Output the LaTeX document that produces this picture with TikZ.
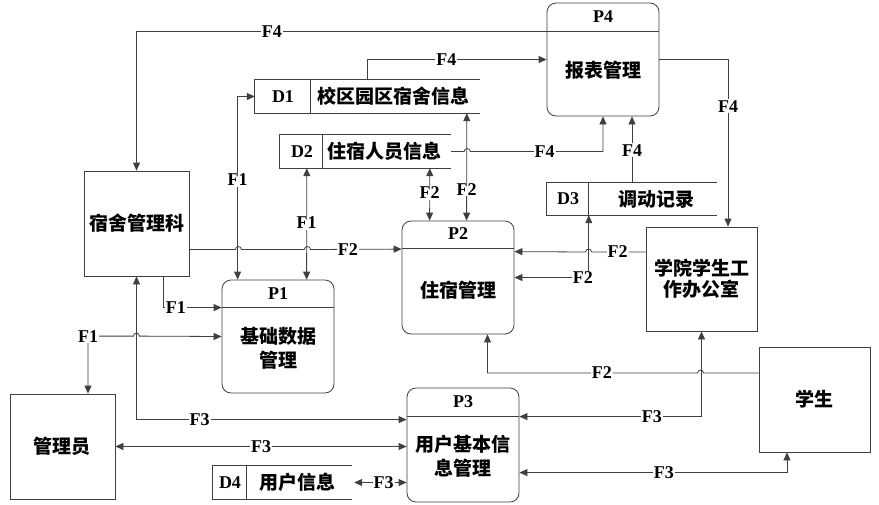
\documentclass[tikz,border=0pt]{standalone}
\usepackage{fontspec}
\setmainfont{Liberation Serif}
\newfontfamily\cjk{Noto Sans CJK SC}
\usetikzlibrary{arrows.meta,calc}
\tikzset{
  ent/.style={draw=black!75,line width=0.8pt,minimum width=105pt,minimum height=105pt,inner sep=0pt,align=center,font=\cjk\bfseries\fontsize{19}{21}\selectfont},
  proc/.style={draw=black!75,line width=0.8pt,rounded corners=9pt,minimum width=112pt,minimum height=113pt,inner sep=0pt},
  store/.style={minimum width=#1,minimum height=33pt,inner sep=0pt},
  tt/.style={align=center,inner sep=0pt,font=\cjk\bfseries\fontsize{19}{24}\selectfont},
  pid/.style={inner sep=0pt,font=\bfseries\fontsize{18}{20}\selectfont},
  lbl/.style={fill=white,inner sep=1pt,font=\bfseries\fontsize{18}{20}\selectfont},
  ln/.style={draw=black!75,line width=0.8pt},
  arr/.style={ln,-{Triangle[length=8pt,width=7pt]}},
  biarr/.style={ln,{Triangle[length=8pt,width=7pt]}-{Triangle[length=8pt,width=7pt]}},
}
\begin{document}
\begin{tikzpicture}[x=1pt,y=-1pt]
 \fill[white] (0,0) rectangle (879,504);
 \useasboundingbox (0,0) rectangle (879,504);
 % ---- external entities
 \node[ent] (kssk) at (136.5,223.5) {宿舍管理科};
 \node[ent] (gly) at (62.5,446.5) {管理员};
 \node[ent,minimum width=111pt,minimum height=104pt] (xy) at (701.5,279) {学院学生工\\作办公室};
 \node[ent,minimum width=111pt] (xs) at (814.5,399.5) {学生};
 % ---- processes
 \node[proc] (p4) at (603,59.5) {};
 \draw[ln] ([yshift=-28.5pt]p4.north west) -- ([yshift=-28.5pt]p4.north east);
 \node[pid] (p4id) at ([yshift=-14pt]p4.north) {P4};
 \node[tt] (p4txt) at (603,70) {报表管理};
 \node[proc] (p1) at (278,336.5) {};
 \draw[ln] ([yshift=-28pt]p1.north west) -- ([yshift=-28pt]p1.north east);
 \node[pid] (p1id) at ([yshift=-14pt]p1.north) {P1};
 \node[tt] (p1txt) at (278,348.5) {基础数据\\管理};
 \node[proc] (p2) at (458,277.5) {};
 \draw[ln] ([yshift=-28pt]p2.north west) -- ([yshift=-28pt]p2.north east);
 \node[pid] (p2id) at ([yshift=-13pt]p2.north) {P2};
 \node[tt] (p2txt) at (458,290) {住宿管理};
 \node[proc,minimum height=114pt] (p3) at (463,445) {};
 \draw[ln] ([yshift=-29pt]p3.north west) -- ([yshift=-29pt]p3.north east);
 \node[pid] (p3id) at ([yshift=-14pt]p3.north) {P3};
 \node[tt] (p3txt) at (463,456.5) {用户基本信\\息管理};
 % ---- data stores
 \node[store=225pt] (d1) at (367.5,96.5) {};
 \draw[ln] (d1.north east) -| (d1.south west) -- (d1.south east);
 \draw[ln] ([xshift=56pt]d1.north west) -- ([xshift=56pt]d1.south west);
 \node[pid] (d1id) at (283,96.5) {D1};
 \node[tt] (d1txt) at (393,96.5) {校区园区宿舍信息};
 \node[store=171pt] (d2) at (365.5,151.5) {};
 \draw[ln] (d2.north east) -| (d2.south west) -- (d2.south east);
 \draw[ln] ([xshift=43pt]d2.north west) -- ([xshift=43pt]d2.south west);
 \node[pid] (d2id) at (302,151.5) {D2};
 \node[tt] (d2txt) at (384,151.5) {住宿人员信息};
 \node[store=170pt,minimum height=32pt] (d3) at (632,199) {};
 \draw[ln] (d3.north east) -| (d3.south west) -- (d3.south east);
 \draw[ln] ([xshift=42pt]d3.north west) -- ([xshift=42pt]d3.south west);
 \node[pid] (d3id) at (568,199) {D3};
 \node[tt] (d3txt) at (656,199) {调动记录};
 \node[store=139pt] (d4) at (282.5,482.5) {};
 \draw[ln] (d4.north east) -| (d4.south west) -- (d4.south east);
 \draw[ln] ([xshift=34pt]d4.north west) -- ([xshift=34pt]d4.south west);
 \node[pid] (d4id) at (230,482.5) {D4};
 \node[tt] (d4txt) at (297,482.5) {用户信息};
 % ---- flows F4
 \draw[arr] ([yshift=-28.5pt]p4.north west) -| (kssk.north) node[lbl,pos=0.335]{F4};
 \draw[arr] (d1.north) |- (p4.west) node[lbl,pos=0.72]{F4};
 \draw[arr] (d2.east) -- ++(13,0) arc[start angle=180,end angle=0,radius=3pt] -| (p4.south) node[lbl,pos=0.28]{F4};
 \draw[arr] (d3.north) -- (d3.north |- p4.south) node[lbl,pos=0.49]{F4};
 \draw[arr] (p4.east) -| ([xshift=26.5pt]xy.north) node[lbl,pos=0.64]{F4};
 % ---- flows F1
 \draw[biarr] (d1.west) -| ([xshift=16pt]p1.north west) node[lbl,pos=0.728]{F1};
 \draw[biarr] ([xshift=27pt]d2.south west) -- ([xshift=85pt]p1.north west) node[lbl,pos=0.49]{F1};
 \draw[arr] ([xshift=26.5pt]kssk.south) |- ([yshift=-28pt]p1.north west) node[lbl,pos=0.61]{F1};
 \draw[biarr] ([xshift=25.5pt]gly.north) -- ++(0,-57.5) node[lbl]{F1} -- ++(45.5,0) arc[start angle=180,end angle=0,radius=3pt] -- (p1.west);
 % ---- flows F2
 \draw[arr] ([yshift=-26pt]kssk.east) -- ++(46,0) arc[start angle=180,end angle=0,radius=3pt] -- ++(63,0) arc[start angle=180,end angle=0,radius=3pt] -- ([yshift=-28.5pt]p2.north west) node[lbl,pos=0.41]{F2};
 \draw[biarr] ([xshift=150pt]d2.south west) -- ([xshift=28pt]p2.north west) node[lbl,pos=0.47]{F2};
 \draw[biarr] ([xshift=212pt]d1.south west) -- ([xshift=65pt]p2.north west) node[lbl,pos=0.71]{F2};
 \draw[arr] ([yshift=27pt]xy.west) -- ++(-54,0) node[lbl,pos=0.52]{F2} arc[start angle=0,end angle=180,radius=3pt] -- ([yshift=-31pt]p2.north east);
 \draw[biarr] ([xshift=42pt]d3.south west) |- (p2.east) node[lbl,pos=0.5,xshift=-6pt]{F2};
 \draw[arr] ([yshift=26.5pt]xs.west) -- ++(-55,0) arc[start angle=0,end angle=180,radius=3pt] -| ([xshift=29.5pt]p2.south) node[lbl,pos=0.228]{F2};
 % ---- flows F3
 \draw[biarr] (kssk.south) |- ([yshift=-32pt]p3.north west) node[lbl,pos=0.617]{F3};
 \draw[biarr] (gly.east) -- (gly.east -| p3.west) node[lbl,pos=0.5]{F3};
 \draw[biarr] ([xshift=2pt]d4.east) -- (d4.east -| p3.west) node[lbl,pos=0.56]{F3};
 \draw[biarr] (xy.south) |- ([yshift=-29pt]p3.north east) node[lbl,pos=0.636]{F3};
 \draw[biarr] ([xshift=-27.5pt]xs.south) |- ([yshift=-85pt]p3.north east) node[lbl,pos=0.73]{F3};
\end{tikzpicture}
\end{document}
